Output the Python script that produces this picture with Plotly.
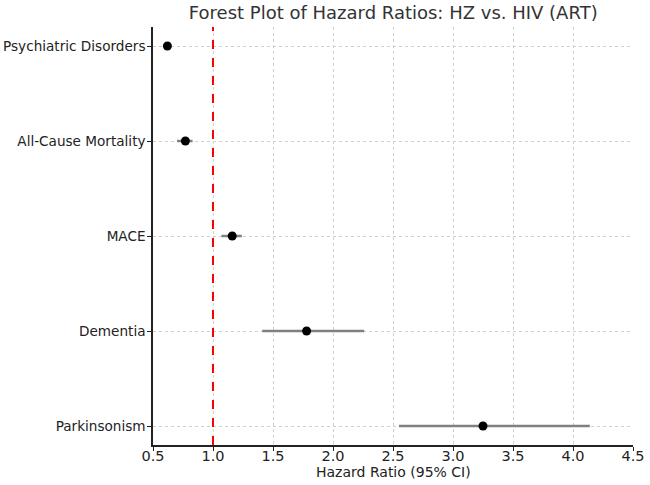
import plotly.graph_objects as go

outcomes = ["Psychiatric Disorders", "All-Cause Mortality", "MACE", "Dementia", "Parkinsonism"]
hr = [0.62, 0.77, 1.16, 1.78, 3.25]
ci_low = [0.61, 0.70, 1.07, 1.41, 2.55]
ci_high = [0.63, 0.83, 1.24, 2.26, 4.14]
x_ticks = [0.5, 1.0, 1.5, 2.0, 2.5, 3.0, 3.5, 4.0, 4.5]

err_plus = [c - h for h, c in zip(hr, ci_high)]
err_minus = [h - c for h, c in zip(hr, ci_low)]

font = "DejaVu Sans"
fig = go.Figure()
fig.add_trace(go.Scatter(
    x=hr, y=outcomes, mode="markers",
    marker=dict(color="black", size=9),
    error_x=dict(type="data", symmetric=False, array=err_plus, arrayminus=err_minus,
                 color="gray", thickness=2.5, width=0),
    showlegend=False,
))
fig.add_shape(type="line", x0=1.0, x1=1.0, y0=0, y1=1, yref="paper", xref="x",
              line=dict(color="red", width=2, dash="dash"))

fig.add_annotation(text="Hazard Ratio (95% CI)", xref="paper", yref="paper",
                   x=0.5, y=-0.064, xanchor="center", yanchor="middle", showarrow=False,
                   font=dict(size=14, color="#222"))

fig.update_layout(
    width=650, height=485,
    margin=dict(l=153, r=17, t=27, b=40),
    paper_bgcolor="white", plot_bgcolor="white",
    font=dict(family=font, size=14, color="#222"),
    title=dict(text="Forest Plot of Hazard Ratios: HZ vs. HIV (ART)", x=0.605, xanchor="center",
               y=0.974, yanchor="middle", font=dict(size=18, color="#333")),
)
fig.update_xaxes(range=[0.5, 4.5], tickvals=x_ticks, ticktext=[f"{v:.1f}" for v in x_ticks],
                 showgrid=True, gridcolor="#d0d0d0", griddash="dot", gridwidth=1,
                 showline=True, linecolor="#222", linewidth=1.5, ticks="outside", ticklen=4,
                 tickcolor="#222", zeroline=False, automargin=False,
                 tickfont=dict(size=14.5), ticklabelstandoff=-7)
fig.update_yaxes(categoryorder="array", categoryarray=outcomes, range=[4.2, -0.2],
                 showgrid=True, gridcolor="#d0d0d0", griddash="dot", gridwidth=1,
                 showline=True, linecolor="#222", linewidth=1.5, ticks="outside", ticklen=4,
                 tickcolor="#222", zeroline=False, automargin=False,
                 tickfont=dict(size=13.6), ticklabelstandoff=-1)

fig.write_html("out.html")
